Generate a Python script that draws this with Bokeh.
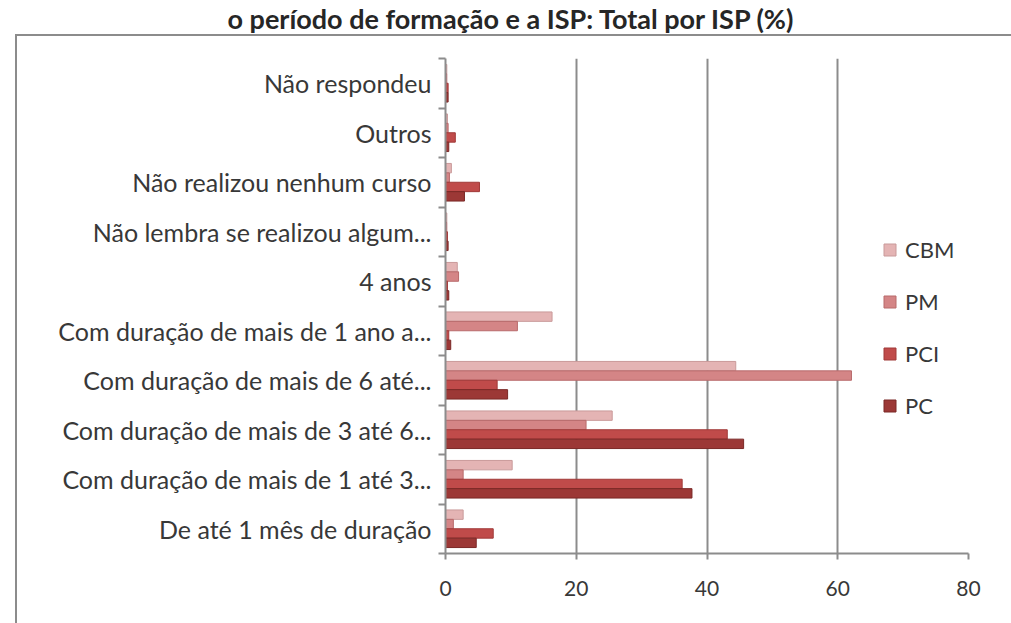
from bokeh.plotting import figure
from bokeh.models import Range1d, FixedTicker, Title
from bokeh.embed import file_html
from bokeh.resources import INLINE

title_text = "o período de formação e a ISP: Total por ISP (%)"
categories = [
    "De até 1 mês de duração",
    "Com duração de mais de 1 até 3...",
    "Com duração de mais de 3 até 6...",
    "Com duração de mais de 6 até...",
    "Com duração de mais de 1 ano a...",
    "4 anos",
    "Não lembra se realizou algum...",
    "Não realizou nenhum curso",
    "Outros",
    "Não respondeu",
]
series_names = ["CBM", "PM", "PCI", "PC"]
cbm = [2.7, 10.2, 25.5, 44.4, 16.3, 1.8, 0.2, 0.9, 0.3, 0.2]
pm = [1.2, 2.7, 21.5, 62.1, 11.0, 2.0, 0.2, 0.6, 0.4, 0.2]
pci = [7.3, 36.2, 43.1, 7.9, 0.5, 0.3, 0.3, 5.2, 1.5, 0.4]
pc = [4.7, 37.7, 45.6, 9.5, 0.8, 0.5, 0.4, 2.9, 0.5, 0.4]
x_ticks = [0, 20, 40, 60, 80]

series_values = [cbm, pm, pci, pc]
fills = ["#e4b4b4", "#d48586", "#c04b4a", "#9c3836"]
edges = ["#c99a9a", "#b86a6b", "#a03a39", "#7a2826"]
offsets = [0.285, 0.095, -0.095, -0.285]
FONT = "Lato"
GRAY = "#8c8c8c"

p = figure(width=1011, height=623, x_range=Range1d(0, 80), y_range=Range1d(0, 10),
           output_backend="svg", toolbar_location=None,
           min_border_left=445, min_border_right=43, min_border_top=58, min_border_bottom=70)
p.outline_line_color = None
p.border_fill_color = None
p.styles = {"box-shadow": "inset 15px 34px 0 0 #ffffff, inset 17px 36px 0 0 #8c8c8c"}

pos = [i + 0.5 for i in range(len(categories))]
for name, vals, fc, lc, off in zip(series_names, series_values, fills, edges, offsets):
    p.hbar(y=[y + off for y in pos], left=0, right=vals, height=0.19,
           fill_color=fc, line_color=lc, line_width=1, legend_label=name)

# axes
p.xaxis.ticker = FixedTicker(ticks=x_ticks)
p.xgrid.ticker = FixedTicker(ticks=x_ticks)
p.xgrid.grid_line_color = GRAY
p.xgrid.grid_line_width = 2
p.ygrid.grid_line_color = None
p.xaxis.axis_line_color = GRAY
p.xaxis.axis_line_width = 2
p.xaxis.major_tick_line_color = GRAY
p.xaxis.major_tick_line_width = 2
p.xaxis.major_tick_out = 6
p.xaxis.major_tick_in = 0
p.xaxis.minor_tick_line_color = None
p.xaxis.major_label_text_font = FONT
p.xaxis.major_label_text_font_size = "21px"
p.xaxis.major_label_text_color = "#383838"
p.xaxis.major_label_standoff = 21

p.yaxis.ticker = FixedTicker(ticks=pos, minor_ticks=list(range(len(categories) + 1)))
p.yaxis.major_label_overrides = {y: c for y, c in zip(pos, categories)}
p.yaxis.axis_line_color = GRAY
p.yaxis.axis_line_width = 2
p.yaxis.major_tick_line_color = None
p.yaxis.minor_tick_line_color = GRAY
p.yaxis.minor_tick_line_width = 2
p.yaxis.minor_tick_out = 7
p.yaxis.minor_tick_in = 0
p.yaxis.major_label_text_font = FONT
p.yaxis.major_label_text_font_size = "25px"
p.yaxis.major_label_text_color = "#383838"
p.yaxis.major_label_standoff = 7

# legend
lg = p.legend[0]
lg.location = (437, 134)
lg.glyph_width = 15
lg.glyph_height = 15
lg.label_text_font = FONT
lg.label_text_font_size = "22px"
lg.label_text_color = "#383838"
lg.label_height = 22
lg.spacing = 25
lg.padding = 0
lg.margin = 0
lg.label_standoff = 8
lg.border_line_color = None
lg.background_fill_alpha = 0

# title on top, spacer panel between it and the frame
p.title.text = title_text
p.title.align = "left"
p.title.offset = -218
p.title.standoff = 0
p.title.vertical_align = "top"
p.title.text_font = FONT
p.title.text_font_style = "bold"
p.title.text_font_size = "27px"
p.title.text_color = "#262626"
p.add_layout(Title(text=" ", text_font_size="10px", standoff=9), "above")

open("out.html", "w").write(file_html(p, INLINE))
